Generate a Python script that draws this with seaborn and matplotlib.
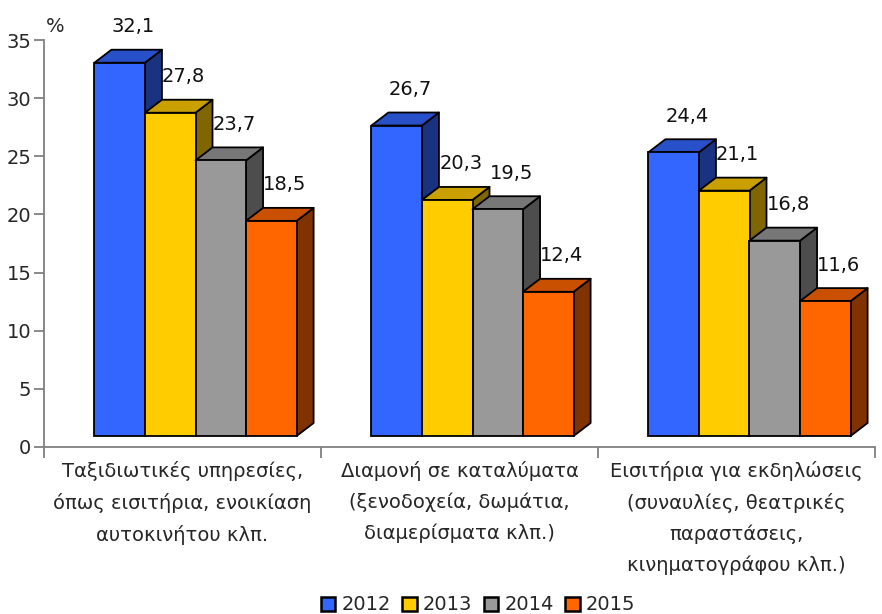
import numpy as np
import pandas as pd
import seaborn as sns
import matplotlib
matplotlib.use("Agg")
import matplotlib.pyplot as plt
from matplotlib.patches import Polygon, Patch

# ---------------- data ----------------
categories = [
    "Ταξιδιωτικές υπηρεσίες,\nόπως εισιτήρια, ενοικίαση\nαυτοκινήτου κλπ.",
    "Διαμονή σε καταλύματα\n(ξενοδοχεία, δωμάτια,\nδιαμερίσματα κλπ.)",
    "Εισιτήρια για εκδηλώσεις\n(συναυλίες, θεατρικές\nπαραστάσεις,\nκινηματογράφου κλπ.)",
]
years = ["2012", "2013", "2014", "2015"]
v2012 = [32.1, 26.7, 24.4]
v2013 = [27.8, 20.3, 21.1]
v2014 = [23.7, 19.5, 16.8]
v2015 = [18.5, 12.4, 11.6]
y_ticks = [0, 5, 10, 15, 20, 25, 30, 35]

front_colors = ["#3366FF", "#FFCC00", "#999999", "#FF6600"]
top_colors = ["#2850C8", "#C9A000", "#777777", "#C85000"]
side_colors = ["#1A3380", "#806600", "#4D4D4D", "#803300"]

series = [v2012, v2013, v2014, v2015]
df = pd.DataFrame({
    "category": [c for s in series for c in categories],
    "year": [y for y, s in zip(years, series) for _ in s],
    "value": [v for s in series for v in s],
})

# ---------------- figure ----------------
sns.set_style("white")
plt.rcParams["font.family"] = ["DejaVu Sans"]

W, H, DPI = 8.82, 6.14, 100
fig = plt.figure(figsize=(W, H), dpi=DPI)
L, R, B, T = 44 / 882, 875 / 882, 1 - 447 / 614, 1 - 40 / 614
ax = fig.add_axes([L, B, R - L, T - B])

sns.barplot(data=df, x="category", y="value", hue="year", order=categories,
            hue_order=years, palette=front_colors, width=0.73, dodge=True,
            saturation=1, edgecolor="black", linewidth=1.3, legend=False, ax=ax)

ax.set_xlim(-0.5, 2.5)
ax.set_ylim(0, 35)

# pixel -> data conversions
ax_w_px = (R - L) * W * DPI
ax_h_px = (T - B) * H * DPI
px_x = 3.0 / ax_w_px
px_y = 35.0 / ax_h_px

shift_x = 13 * px_x
base_y = 11 * px_y
dx = 17 * px_x
dy = 13 * px_y

bars = list(ax.patches)
n_cat = len(categories)
for idx, p in enumerate(bars):
    hi = idx // n_cat
    val = p.get_height()
    x0 = p.get_x() + shift_x
    w = p.get_width()
    p.set_x(x0)
    p.set_y(base_y)
    p.set_clip_on(False)
    zb = 3 + hi * 3
    p.set_zorder(zb + 2)
    y1 = base_y + val
    x1 = x0 + w
    side = Polygon([(x1, base_y), (x1 + dx, base_y + dy), (x1 + dx, y1 + dy), (x1, y1)],
                   closed=True, facecolor=side_colors[hi], edgecolor="black",
                   linewidth=1.3, zorder=zb, clip_on=False, joinstyle="round")
    top = Polygon([(x0, y1), (x0 + dx, y1 + dy), (x1 + dx, y1 + dy), (x1, y1)],
                  closed=True, facecolor=top_colors[hi], edgecolor="black",
                  linewidth=1.3, zorder=zb + 1, clip_on=False, joinstyle="round")
    ax.add_patch(side)
    ax.add_patch(top)
    lbl = f"{val:.1f}".replace(".", ",")
    ax.text(x0 + w / 2 + dx / 2 + 5 * px_x, y1 + dy + 23 * px_y, lbl,
            ha="center", va="center", fontsize=14, color="#111111", zorder=30,
            clip_on=False)

# axes styling
for s in ["top", "right"]:
    ax.spines[s].set_visible(False)
for s in ["left", "bottom"]:
    ax.spines[s].set_color("#808080")
    ax.spines[s].set_linewidth(1.3)

ax.set_yticks(y_ticks)
ax.set_yticklabels([str(t) for t in y_ticks], fontsize=14)
ax.tick_params(axis="y", length=7, width=1.3, color="#808080", pad=2, direction="out", left=True)

ax.set_xticks(range(n_cat))
ax.set_xticklabels(categories, fontsize=14, linespacing=1.75)
ax.set_xticks([-0.5, 0.5, 1.5, 2.5], minor=True)
ax.tick_params(axis="x", which="major", length=0, pad=10)
ax.tick_params(axis="x", which="minor", length=8, width=1.3, color="#808080", direction="out", bottom=True)
for t in ax.get_xticklabels():
    t.set_ha("center")
    t.set_va("top")

ax.set_xlabel("")
ax.set_ylabel("")
ax.text(55 / 882, 1 - 26 / 614, "%", transform=fig.transFigure, ha="center",
        va="center", fontsize=14)

handles = [Patch(facecolor=c, edgecolor="black", linewidth=1.8) for c in front_colors]
fig.legend(handles, years, loc="center", bbox_to_anchor=(0.542, 0.0147), ncol=4,
           frameon=False, fontsize=14, handlelength=0.75, handleheight=0.75,
           handletextpad=0.3, columnspacing=0.6, borderpad=0, borderaxespad=0)

fig.savefig("out.png", dpi=DPI)
